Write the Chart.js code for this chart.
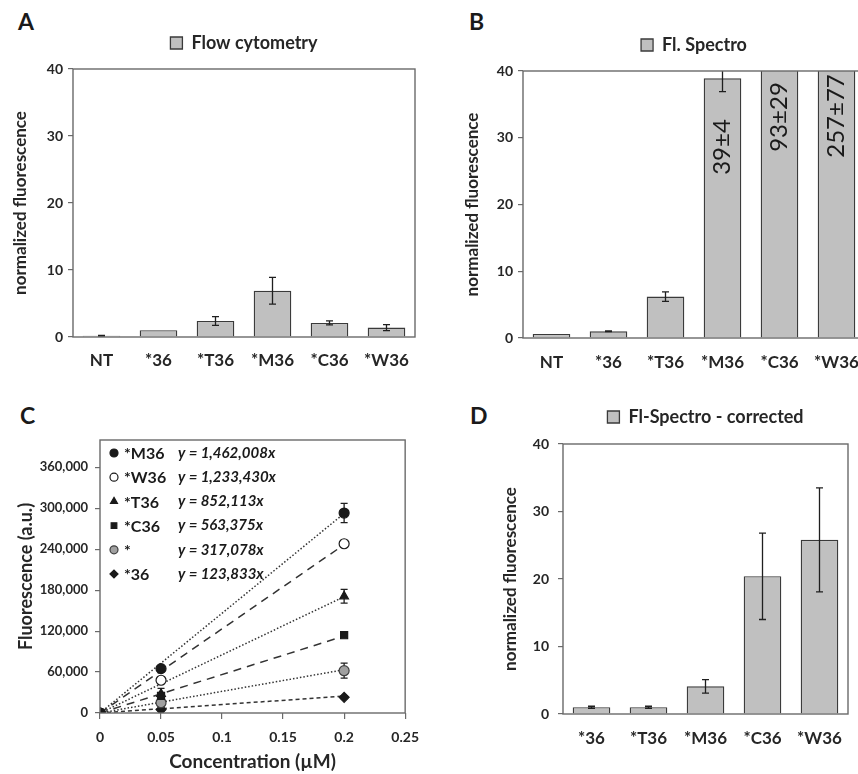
<!DOCTYPE html>
<html>
<head>
<meta charset="utf-8">
<script src="https://cdn.jsdelivr.net/npm/chart.js@4.4.0/dist/chart.umd.min.js"></script>
<style>
  body { margin: 0; width: 858px; height: 774px; overflow: hidden; background: #fff; position: relative; }
  canvas { position: absolute; }
  .tag { position: absolute; font: bold 23px Lato, sans-serif; color: #1a1a1a; line-height: 1; }
</style>
</head>
<body>
<div class="tag" style="left:18px;top:10px">A</div>
<div class="tag" style="left:469px;top:10px">B</div>
<div class="tag" style="left:20px;top:404px">C</div>
<div class="tag" style="left:470px;top:404px">D</div>

<canvas id="chartA" width="429" height="380" style="left:0;top:0"></canvas>
<canvas id="chartB" width="450" height="380" style="left:429px;top:0"></canvas>
<canvas id="chartC" width="429" height="394" style="left:0;top:380px"></canvas>
<canvas id="chartD" width="429" height="394" style="left:429px;top:380px"></canvas>

<script>
// --- dados ---
const catsAB = ['NT', '*36', '*T36', '*M36', '*C36', '*W36'];
const flowVals = [0.2, 1.0, 2.4, 6.9, 2.1, 1.4];
const flowErr = [0.05, 0, 0.65, 2.0, 0.3, 0.45];
const spectroVals = [0.6, 1.0, 6.2, 38.9, 93, 257];
const spectroErr = [0, 0.05, 0.7, 2.0, 29, 77];
const spectroText = ['', '', '', '39±4', '93±29', '257±77'];

const catsD = ['*36', '*T36', '*M36', '*C36', '*W36'];
const corrVals = [1.0, 1.0, 4.1, 20.4, 25.8];
const corrErr = [0.15, 0.15, 1.0, 6.4, 7.7];

// painel C
const conc = [0, 0.05, 0.2];
const seriesNames = ['*M36', '*W36', '*T36', '*C36', '*', '*36'];
const fitText = ['y = 1,462,008x', 'y = 1,233,430x', 'y = 852,113x', 'y = 563,375x', 'y = 317,078x', 'y = 123,833x'];
const slopes = [1462008, 1233430, 852113, 563375, 317078, 123833];
const m36 = [0, 65000, 293000];
const w36 = [0, 48000, 248000];
const t36 = [0, 28000, 171000];
const c36 = [0, 25000, 114000];
const star = [0, 15000, 62000];
const s36 = [0, 5000, 23000];
const m36Err = [0, 3000, 14000];
const w36Err = [0, 2000, 3000];
const t36Err = [0, 8000, 10000];
const c36Err = [0, 3000, 3000];
const starErr = [0, 4000, 11000];
const s36Err = [0, 2500, 2000];
const yTicksC = [0, 60000, 120000, 180000, 240000, 300000, 360000];

const FONT = 'Lato, "Open Sans", sans-serif';
const INK = '#262626';
Chart.defaults.font.family = FONT;
Chart.defaults.color = INK;
Chart.defaults.animation = false;

// barras de erro (desenhadas a partir da escala y)
const errorBars = {
  id: 'errorBars',
  draw(chart) {
    const { ctx, chartArea: a } = chart;
    const ys = chart.scales.y;
    ctx.save();
    ctx.beginPath();
    ctx.rect(a.left, a.top, a.right - a.left, a.bottom - a.top);
    ctx.clip();
    ctx.strokeStyle = '#1f1f1f';
    ctx.lineWidth = 1.3;
    chart.data.datasets.forEach((ds, i) => {
      if (!ds.errors) return;
      chart.getDatasetMeta(i).data.forEach((el, j) => {
        const e = ds.errors[j];
        if (!e) return;
        const v = typeof ds.data[j] === 'object' ? ds.data[j].y : ds.data[j];
        const y1 = ys.getPixelForValue(v + e), y2 = ys.getPixelForValue(v - e);
        ctx.beginPath();
        ctx.moveTo(el.x, y1); ctx.lineTo(el.x, y2);
        ctx.moveTo(el.x - 3.5, y1); ctx.lineTo(el.x + 3.5, y1);
        ctx.moveTo(el.x - 3.5, y2); ctx.lineTo(el.x + 3.5, y2);
        ctx.stroke();
      });
    });
    ctx.restore();
  },
  afterDatasetsDraw(chart, args, opts) { if (!opts.under) this.draw(chart); },
  beforeDatasetsDraw(chart, args, opts) { if (opts.under) this.draw(chart); }
};

// moldura da área do gráfico
const frame = {
  id: 'frame',
  afterDraw(chart) {
    const { ctx, chartArea: a } = chart;
    ctx.save();
    ctx.strokeStyle = '#6a6a6a';
    ctx.lineWidth = 1.4;
    ctx.strokeRect(a.left, a.top, a.right - a.left, a.bottom - a.top);
    ctx.restore();
  }
};

function barChart(id, cats, vals, errs, legendText, o) {
  return new Chart(document.getElementById(id), {
    type: 'bar',
    data: {
      labels: cats,
      datasets: [{
        label: legendText,
        data: vals,
        errors: errs,
        backgroundColor: '#c0c0c0',
        borderColor: '#3a3a3a',
        borderWidth: 1.3,
        borderSkipped: 'start',
        barPercentage: 0.66,
        categoryPercentage: 1
      }]
    },
    options: {
      responsive: false,
      layout: { padding: o.pad },
      plugins: {
        legend: {
          fullSize: false,
          labels: { boxWidth: 12, boxHeight: 12, padding: 10, color: INK, font: { size: 18, weight: 'bold' } }
        },
        tooltip: { enabled: false },
        errorBars: { under: false }
      },
      scales: {
        x: {
          grid: { display: false, drawTicks: false },
          border: { display: false },
          ticks: { padding: o.xPad, font: { size: 17, weight: 'bold' } },
          afterFit: s => { s.height = o.xH; }
        },
        gap: {
          type: 'category', position: 'top',
          grid: { display: false, drawTicks: false },
          border: { display: false },
          ticks: { display: false },
          afterFit: s => { s.height = o.gap; }
        },
        y: {
          min: 0, max: 40,
          ticks: { stepSize: 10, padding: o.yPad, font: { size: 14, weight: 'bold' } },
          grid: { drawOnChartArea: false, tickLength: 5, color: '#6a6a6a', lineWidth: 1.2 },
          border: { display: false },
          title: { display: true, text: 'normalized fluorescence', padding: { top: o.tPad }, font: { size: 17, weight: 'bold' } },
          afterFit: s => { s.width = o.yW; }
        }
      }
    },
    plugins: [errorBars, frame].concat(o.extra || [])
  });
}

// A
barChart('chartA', catsAB, flowVals, flowErr, 'Flow cytometry',
  { pad: { top: 24, right: 14, left: 0, bottom: 0 }, xH: 43, xPad: 13, yW: 73, yPad: 5, tPad: 10, gap: 7 });

// B - rótulos girados dentro das barras
const barText = {
  id: 'barText',
  afterDatasetsDraw(chart) {
    const { ctx, chartArea: a } = chart;
    const offs = { 3: 76, 4: 46, 5: 45 };
    ctx.save();
    ctx.font = '24px ' + FONT;
    ctx.fillStyle = '#1a1a1a';
    ctx.textAlign = 'center';
    ctx.textBaseline = 'middle';
    chart.getDatasetMeta(0).data.forEach((el, j) => {
      if (!spectroText[j]) return;
      ctx.save();
      ctx.translate(el.x, a.top + offs[j]);
      ctx.rotate(-Math.PI / 2);
      ctx.fillText(spectroText[j], 0, 0);
      ctx.restore();
    });
    ctx.restore();
  }
};
barChart('chartB', catsAB, spectroVals, spectroErr, 'Fl. Spectro',
  { pad: { top: 26, right: 14, left: 0, bottom: 0 }, xH: 42, xPad: 14, yW: 94, yPad: 5, tPad: 33, gap: 7, extra: [barText] });

// D
barChart('chartD', catsD, corrVals, corrErr, 'Fl-Spectro - corrected',
  { pad: { top: 18, right: 10, left: 0, bottom: 0 }, xH: 60, xPad: 14, yW: 134, yPad: 9, tPad: 71, gap: 8 });

// C - dispersão com retas de ajuste
const pointVals = [m36, w36, t36, c36, star, s36];
const pointErrs = [m36Err, w36Err, t36Err, c36Err, starErr, s36Err];
const styles = [
  { ps: 'circle', fill: '#1a1a1a', stroke: '#1a1a1a', dash: [1.5, 2] },
  { ps: 'circle', fill: '#ffffff', stroke: '#1a1a1a', dash: [8, 6] },
  { ps: 'triangle', fill: '#1a1a1a', stroke: '#1a1a1a', dash: [1.5, 2] },
  { ps: 'rect', fill: '#1a1a1a', stroke: '#1a1a1a', dash: [8, 6] },
  { ps: 'circle', fill: '#a0a0a0', stroke: '#404040', dash: [1.5, 2] },
  { ps: 'rectRot', fill: '#1a1a1a', stroke: '#1a1a1a', dash: [4, 3] }
];

const dsC = [];
seriesNames.forEach((name, i) => {
  dsC.push({
    label: name,
    data: conc.map((x, j) => ({ x: x, y: pointVals[i][j] })),
    errors: pointErrs[i],
    showLine: false,
    pointStyle: styles[i].ps,
    pointRadius: 5,
    backgroundColor: styles[i].fill,
    borderColor: styles[i].stroke,
    borderWidth: 1.2,
    order: 1
  });
  dsC.push({
    label: name + ' fit',
    data: [{ x: 0, y: 0 }, { x: conc[2], y: slopes[i] * conc[2] }],
    showLine: true,
    pointRadius: 0,
    borderColor: '#333',
    borderWidth: 1.5,
    borderDash: styles[i].dash,
    order: 2
  });
});

const fitLegend = {
  id: 'fitLegend',
  afterDatasetsDraw(chart) {
    const { ctx, chartArea: a } = chart;
    ctx.save();
    ctx.textBaseline = 'middle';
    seriesNames.forEach((name, i) => {
      const y = a.top + 13 + i * 24.2;
      ctx.fillStyle = styles[i].fill;
      ctx.strokeStyle = styles[i].stroke;
      ctx.lineWidth = 1.2;
      Chart.helpers.drawPoint(ctx, { pointStyle: styles[i].ps, radius: 4, borderWidth: 1.2 }, a.left + 14, y);
      ctx.fillStyle = '#1a1a1a';
      ctx.font = 'bold 16px ' + FONT;
      ctx.fillText(name, a.left + 24, y + 1);
      ctx.font = 'italic bold 15px ' + FONT;
      ctx.fillText(fitText[i], a.left + 78, y);
    });
    ctx.restore();
  }
};

new Chart(document.getElementById('chartC'), {
  type: 'scatter',
  data: { datasets: dsC },
  options: {
    responsive: false,
    layout: { padding: { top: 60, right: 19, left: 0, bottom: 0 } },
    plugins: { legend: { display: false }, tooltip: { enabled: false }, errorBars: { under: true } },
    scales: {
      x: {
        type: 'linear', min: 0, max: 0.25,
        ticks: { stepSize: 0.05, padding: 10, font: { size: 14, weight: 'bold' }, callback: v => String(+v.toFixed(2)) },
        grid: { drawOnChartArea: false, tickLength: 6, color: '#6a6a6a', lineWidth: 1.2 },
        border: { display: false },
        title: { display: true, text: 'Concentration (µM)', padding: { bottom: 1 }, font: { size: 19, weight: 'bold' } },
        afterFit: s => { s.height = 61; }
      },
      y: {
        min: 0, max: 400000,
        afterBuildTicks: s => { s.ticks = yTicksC.map(v => ({ value: v })); },
        ticks: { padding: 7, font: { size: 13, weight: 'bold' }, callback: v => v.toLocaleString('en-US') },
        grid: { drawOnChartArea: false, tickLength: 5, color: '#6a6a6a', lineWidth: 1.2 },
        border: { display: false },
        title: { display: true, text: 'Fluorescence (a.u.)', padding: { top: 15 }, font: { size: 18, weight: 'bold' } },
        afterFit: s => { s.width = 100; }
      }
    }
  },
  plugins: [errorBars, frame, fitLegend]
});
</script>
</body>
</html>
